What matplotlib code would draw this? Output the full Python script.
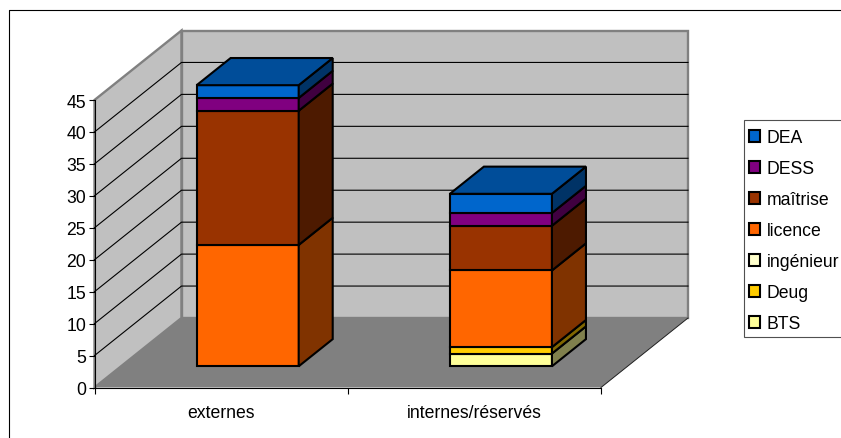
import matplotlib
matplotlib.use('Agg')
import matplotlib.pyplot as plt
from matplotlib.patches import Patch, Polygon, Rectangle
from matplotlib.lines import Line2D
import numpy as np

W = 841; H = 439

categories = ['externes', 'internes/réservés']
series = ['BTS', 'Deug', 'ingénieur', 'licence', 'maîtrise', 'DESS', 'DEA']
colors = ['#FFFF99', '#FFCC00', '#FFFFCC', '#FF6600', '#993300', '#800080', '#0066CC']
bts = [0, 2]
deug = [0, 1]
ingenieur = [0, 0]
licence = [19, 12]
maitrise = [21, 7]
dess = [2, 2]
dea = [2, 3]
values = [bts, deug, ingenieur, licence, maitrise, dess, dea]
yticks = [0, 5, 10, 15, 20, 25, 30, 35, 40, 45]

# Plot area of the front plane, in pixels of the picture
LEFT = 94.5; RIGHT = 601.0; BOTTOM = 388.5; TOP = 101.0
DEPTH_X = 87.0 / (RIGHT - LEFT) * 2     # depth of the box in x units
DEPTH_Y = 69.5 / (BOTTOM - TOP) * 45    # depth of the box in y units
BAR_WIDTH = 0.403
BAR_FRONT = 0.305      # fraction of the depth where a bar starts
BAR_BACK = 0.696       # and where it ends

plt.rcParams['font.family'] = ['Liberation Sans', 'DejaVu Sans']

fig = plt.figure(figsize=(W/100, H/100), dpi=100)
ax = fig.add_axes([LEFT/W, 1-BOTTOM/H, (RIGHT-LEFT)/W, (BOTTOM-TOP)/H])
ax.set_xlim(0, 2)
ax.set_ylim(0, 45)
ax.patch.set_visible(False)
for s in ['top', 'right']:
    ax.spines[s].set_visible(False)
ax.spines['left'].set_linewidth(0.8)
ax.spines['bottom'].set_linewidth(0.8)
ax.spines['left'].set_zorder(20)
ax.spines['bottom'].set_zorder(20)

def shade(c, k):
    return tuple(np.array(matplotlib.colors.to_rgb(c)) * k)

def proj(x, y, d):
    # shift a point of the front plane back by depth fraction d
    return (x + d*DEPTH_X, y + d*DEPTH_Y)

def poly(pts, fc, ec='none', lw=0, z=1):
    ax.add_patch(Polygon(pts, closed=True, facecolor=fc, edgecolor=ec, linewidth=lw,
                         zorder=z, clip_on=False, joinstyle='miter'))

# walls and floor
poly([proj(0, 0, 0), proj(0, 45, 0), proj(0, 45, 1), proj(0, 0, 1)], '#C0C0C0', '#808080', 1.7)
poly([proj(0, 0, 1), proj(0, 45, 1), proj(2, 45, 1), proj(2, 0, 1)], '#C0C0C0', '#808080', 1.7)
poly([proj(0, 0, 0), proj(2, 0, 0), proj(2, 0, 1), proj(0, 0, 1)], '#808080')
ax.plot(*zip(proj(2, 0, 0), proj(2, 0, 1)), color='#202020', lw=0.7, zorder=2, clip_on=False)

# gridlines, running along the left wall and the back wall
for v in yticks[1:-1]:
    pts = [proj(0, v, 0), proj(0, v, 1), proj(2, v, 1)]
    ax.plot(*zip(*pts), color='black', lw=0.8, zorder=2, clip_on=False)

# stacked bars
for i in range(len(categories)):
    x0 = i + 0.5 - BAR_WIDTH/2
    x1 = i + 0.5 + BAR_WIDTH/2
    base = 0
    for vals, c in zip(values, colors):
        v = vals[i]
        if v == 0:
            continue
        top = base + v
        # front face then right side
        poly([proj(x0, base, BAR_FRONT), proj(x1, base, BAR_FRONT),
              proj(x1, top, BAR_FRONT), proj(x0, top, BAR_FRONT)], c, 'black', 1.5, 5)
        poly([proj(x1, base, BAR_FRONT), proj(x1, base, BAR_BACK),
              proj(x1, top, BAR_BACK), proj(x1, top, BAR_FRONT)], shade(c, 0.5), 'black', 1.5, 5)
        base = top
    # lid, coloured like the last stack
    poly([proj(x0, base, BAR_FRONT), proj(x1, base, BAR_FRONT),
          proj(x1, base, BAR_BACK), proj(x0, base, BAR_BACK)], shade(colors[-1], 0.75), 'black', 1.5, 5)

# axes ticks
ax.set_yticks(yticks)
ax.tick_params(axis='y', length=4.5, width=0.8, labelsize=12.7, pad=1.5)
ax.set_xticks([0, 1, 2])
ax.set_xticklabels([])
ax.set_xticks([0.5, 1.5], labels=categories, minor=True)
ax.tick_params(axis='x', which='major', length=4.5, width=0.8)
ax.tick_params(axis='x', which='minor', length=0, labelsize=12.7, pad=12)

# outer frame, runs off the right and bottom of the picture
fig.add_artist(Line2D([8.5/W, 8.5/W, 1.0], [0.0, 1-10.5/H, 1-10.5/H], color='black', lw=0.8))

# legend box, also cut by the right edge
fig.add_artist(Rectangle((743.5/W, 1-337.5/H), 110/W, 216.5/H, transform=fig.transFigure,
                         facecolor='white', edgecolor='#505050', linewidth=0.8))
handles = [Patch(facecolor=c, edgecolor='black', linewidth=1.5) for c in colors[::-1]]
leg = fig.legend(handles, series[::-1], loc='upper left', bbox_to_anchor=(749/W, 1-130/H),
                 fontsize=12.7, frameon=False,
                 borderaxespad=0, borderpad=0, labelspacing=0.795, handlelength=0.62,
                 handleheight=0.62, handletextpad=0.38)

fig.savefig('out.png', dpi=100)
